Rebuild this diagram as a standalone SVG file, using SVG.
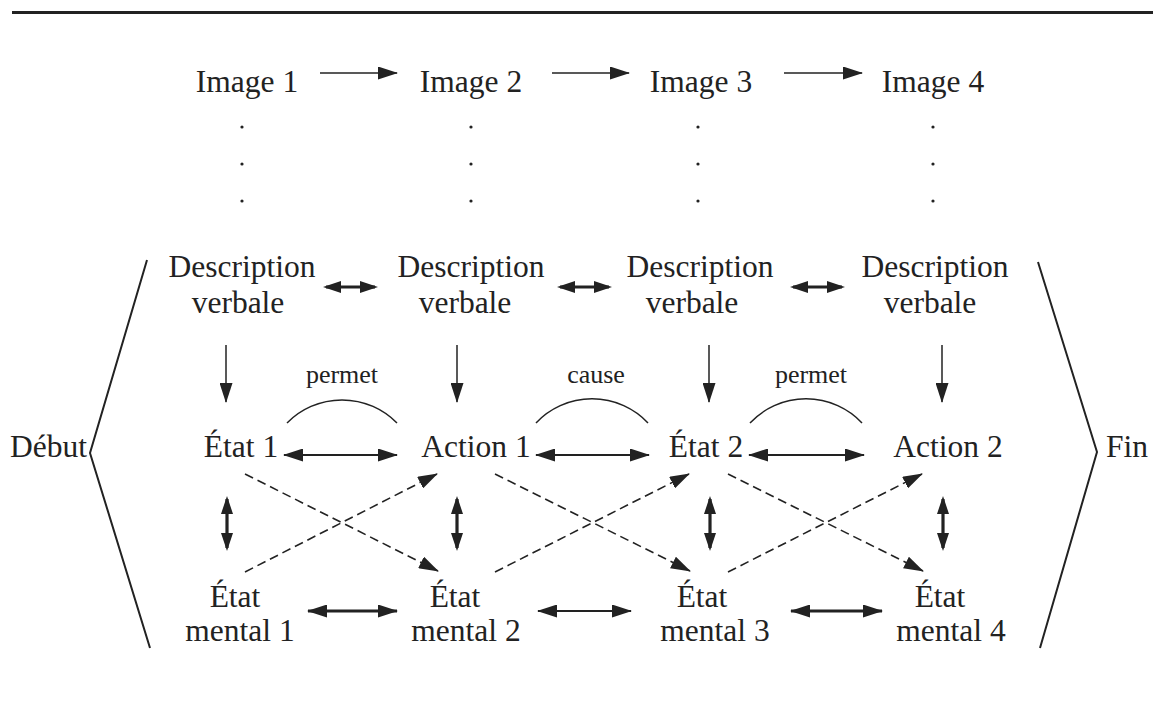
<svg xmlns="http://www.w3.org/2000/svg" width="1160" height="707" viewBox="0 0 1160 707">
  <style>
    text { font-family: "Liberation Serif", "Times New Roman", serif; fill: #222; }
    .lbl { font-size: 31.5px; text-anchor: middle; }
    .rel { font-size: 26px; text-anchor: middle; }
    .ln { stroke: #222; fill: none; }
    .thin { stroke-width: 1.5; }
    .mid { stroke-width: 2; }
    .thick { stroke-width: 3.2; }
    .dash { stroke-width: 1.6; stroke-dasharray: 9 5; }
  </style>
  <defs>
    <marker id="ah" viewBox="0 0 20 13" refX="19" refY="6.5" markerWidth="20" markerHeight="13" markerUnits="userSpaceOnUse" orient="auto-start-reverse">
      <path d="M0,0 L20,6.5 L0,13 z" fill="#222"/>
    </marker>
    <marker id="ahb" viewBox="0 0 18 12" refX="15" refY="6" markerWidth="18" markerHeight="12" markerUnits="userSpaceOnUse" orient="auto-start-reverse">
      <path d="M0,0 L18,6 L0,12 z" fill="#222"/>
    </marker>
  </defs>

  <!-- heading rule -->
  <line x1="12" y1="12.5" x2="1153" y2="12.5" stroke="#222" stroke-width="3"/>

  <!-- image sequence -->
  <g id="image1"><text class="lbl" x="247" y="92">Image 1</text></g>
  <g id="image2"><text class="lbl" x="471" y="92">Image 2</text></g>
  <g id="image3"><text class="lbl" x="701" y="92">Image 3</text></g>
  <g id="image4"><text class="lbl" x="933" y="92">Image 4</text></g>

  <!-- vertical ellipsis dots -->
  <g id="dots" fill="#222">
    <circle cx="242" cy="127" r="1.6"/><circle cx="242" cy="164" r="1.6"/><circle cx="242" cy="201" r="1.6"/>
    <circle cx="471" cy="127" r="1.6"/><circle cx="471" cy="164" r="1.6"/><circle cx="471" cy="201" r="1.6"/>
    <circle cx="698" cy="127" r="1.6"/><circle cx="698" cy="164" r="1.6"/><circle cx="698" cy="201" r="1.6"/>
    <circle cx="933" cy="127" r="1.6"/><circle cx="933" cy="164" r="1.6"/><circle cx="933" cy="201" r="1.6"/>
  </g>

  <!-- verbal descriptions -->
  <g id="desc1"><text class="lbl" x="242" y="277">Description</text><text class="lbl" x="238" y="313">verbale</text></g>
  <g id="desc2"><text class="lbl" x="471" y="277">Description</text><text class="lbl" x="465" y="313">verbale</text></g>
  <g id="desc3"><text class="lbl" x="700" y="277">Description</text><text class="lbl" x="692" y="313">verbale</text></g>
  <g id="desc4"><text class="lbl" x="935" y="277">Description</text><text class="lbl" x="930" y="313">verbale</text></g>

  <!-- states and actions -->
  <g id="etat1"><text class="lbl" x="241" y="457">État 1</text></g>
  <g id="action1"><text class="lbl" x="476" y="457">Action 1</text></g>
  <g id="etat2"><text class="lbl" x="706" y="457">État 2</text></g>
  <g id="action2"><text class="lbl" x="948" y="457">Action 2</text></g>

  <!-- mental states -->
  <g id="mental1"><text class="lbl" x="235" y="607">État</text><text class="lbl" x="240" y="641">mental 1</text></g>
  <g id="mental2"><text class="lbl" x="455" y="607">État</text><text class="lbl" x="466" y="641">mental 2</text></g>
  <g id="mental3"><text class="lbl" x="702" y="607">État</text><text class="lbl" x="715" y="641">mental 3</text></g>
  <g id="mental4"><text class="lbl" x="940" y="607">État</text><text class="lbl" x="951" y="641">mental 4</text></g>

  <!-- start and end brackets -->
  <g id="debut">
    <text x="87" y="457" font-size="31.5" text-anchor="end">Début</text>
    <polyline class="ln" stroke-width="2" points="147,260 90,453 150,648"/>
  </g>
  <g id="fin">
    <text x="1106" y="457" font-size="31.5">Fin</text>
    <polyline class="ln" stroke-width="2" points="1038,262 1097,452 1040,648"/>
  </g>

  <!-- relation labels -->
  <g id="relations">
    <text class="rel" x="342" y="383">permet</text>
    <text class="rel" x="596" y="383">cause</text>
    <text class="rel" x="811" y="383">permet</text>
    <path class="ln thin" d="M287,423 A77,77 0 0 1 397,423"/>
    <path class="ln thin" d="M536,423 A77,77 0 0 1 648,423"/>
    <path class="ln thin" d="M750,423 A77,77 0 0 1 862,423"/>
  </g>

  <g id="connectors">
    <!-- image to image -->
    <line class="ln thin" x1="320" y1="73" x2="397" y2="73" marker-end="url(#ah)"/>
    <line class="ln thin" x1="552" y1="73" x2="629" y2="73" marker-end="url(#ah)"/>
    <line class="ln thin" x1="784" y1="73" x2="862" y2="73" marker-end="url(#ah)"/>

    <!-- description to description -->
    <line class="ln thick" x1="326" y1="287" x2="375" y2="287" marker-start="url(#ahb)" marker-end="url(#ahb)"/>
    <line class="ln thick" x1="560" y1="287" x2="609" y2="287" marker-start="url(#ahb)" marker-end="url(#ahb)"/>
    <line class="ln thick" x1="793" y1="287" x2="842" y2="287" marker-start="url(#ahb)" marker-end="url(#ahb)"/>

    <!-- description to state/action -->
    <line class="ln thin" x1="226" y1="345" x2="226" y2="402" marker-end="url(#ah)"/>
    <line class="ln thin" x1="457" y1="345" x2="457" y2="402" marker-end="url(#ah)"/>
    <line class="ln thin" x1="709" y1="345" x2="709" y2="402" marker-end="url(#ah)"/>
    <line class="ln thin" x1="942" y1="345" x2="942" y2="402" marker-end="url(#ah)"/>

    <!-- state/action chain -->
    <line class="ln mid" x1="284" y1="455" x2="397" y2="455" marker-start="url(#ah)" marker-end="url(#ah)"/>
    <line class="ln mid" x1="536" y1="455" x2="649" y2="455" marker-start="url(#ah)" marker-end="url(#ah)"/>
    <line class="ln mid" x1="749" y1="455" x2="864" y2="455" marker-start="url(#ah)" marker-end="url(#ah)"/>

    <!-- state/action to mental state -->
    <line class="ln thick" x1="227" y1="499" x2="227" y2="548" marker-start="url(#ahb)" marker-end="url(#ahb)"/>
    <line class="ln thick" x1="457" y1="499" x2="457" y2="548" marker-start="url(#ahb)" marker-end="url(#ahb)"/>
    <line class="ln thick" x1="710" y1="499" x2="710" y2="548" marker-start="url(#ahb)" marker-end="url(#ahb)"/>
    <line class="ln thick" x1="943" y1="499" x2="943" y2="548" marker-start="url(#ahb)" marker-end="url(#ahb)"/>

    <!-- crossed influences -->
    <line class="ln dash" x1="245" y1="474" x2="438" y2="571" marker-end="url(#ah)"/>
    <line class="ln dash" x1="245" y1="572" x2="437" y2="474" marker-end="url(#ah)"/>
    <line class="ln dash" x1="495" y1="474" x2="690" y2="571" marker-end="url(#ah)"/>
    <line class="ln dash" x1="495" y1="572" x2="689" y2="474" marker-end="url(#ah)"/>
    <line class="ln dash" x1="728" y1="474" x2="923" y2="571" marker-end="url(#ah)"/>
    <line class="ln dash" x1="728" y1="572" x2="922" y2="474" marker-end="url(#ah)"/>

    <!-- mental state chain -->
    <line class="ln thick" x1="308" y1="611" x2="397" y2="611" marker-start="url(#ah)" marker-end="url(#ah)"/>
    <line class="ln mid" x1="538" y1="611" x2="631" y2="611" marker-start="url(#ah)" marker-end="url(#ah)"/>
    <line class="ln thick" x1="791" y1="611" x2="882" y2="611" marker-start="url(#ah)" marker-end="url(#ah)"/>
  </g>
</svg>
